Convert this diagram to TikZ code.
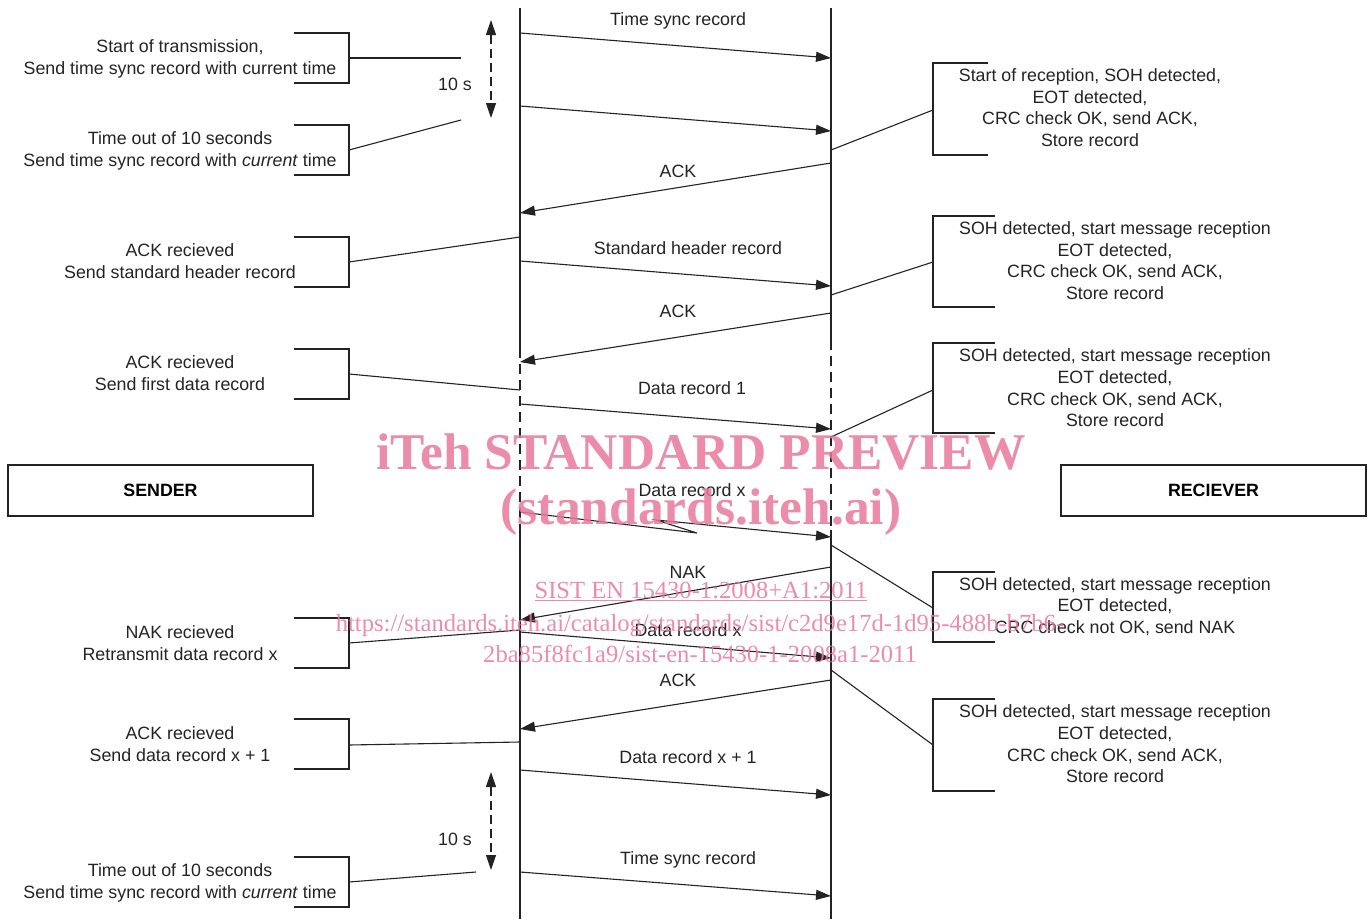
\documentclass[tikz,border=0pt]{standalone}
\usepackage{fontspec}
\setmainfont{Liberation Sans}
\newfontfamily\wmfont{Liberation Serif}
\usetikzlibrary{arrows.meta}
\definecolor{ln}{RGB}{35,35,35}
\definecolor{wmpink}{RGB}{232,120,156}
\begin{document}
\begin{tikzpicture}[x=1pt,y=-1pt,
 txt/.style={font=\fontsize{17.8}{21.6}\selectfont, align=center, inner sep=0pt, text=ln},
 hdr/.style={draw=ln, line width=1.3pt, minimum width=305pt, minimum height=51pt, inner sep=0pt, font=\fontsize{17.8}{21.6}\selectfont\bfseries},
 msg/.style={draw=ln, line width=1.1pt, -{Triangle[length=15pt,width=10pt]}},
 conn/.style={draw=ln, line width=1.1pt},
 brk/.style={draw=ln, line width=1.3pt},
 life/.style={draw=ln, line width=1.3pt},
 lifedash/.style={life, dash pattern=on 10pt off 6pt},
 tenarrow/.style={draw=ln, line width=1.2pt, dash pattern=on 9pt off 5pt, {Triangle[length=15pt,width=10pt]}-{Triangle[length=15pt,width=10pt]}},
 wm/.style={text=wmpink, inner sep=0pt, anchor=base, opacity=0.85}
]
\useasboundingbox (0,0) rectangle (1369,919);

% ---------- lifelines ----------
\coordinate (LT) at (520,8);  \coordinate (LD1) at (520,348); \coordinate (LD2) at (520,530); \coordinate (LB) at (520,919);
\coordinate (RT) at (831,8);  \coordinate (RD1) at (831,340); \coordinate (RD2) at (831,530); \coordinate (RB) at (831,919);
\draw[life] (LT) -- (LD1); \draw[lifedash] (LD1) -- (LD2); \draw[life] (LD2) -- (LB);
\draw[life] (RT) -- (RD1); \draw[lifedash] (RD1) -- (RD2); \draw[life] (RD2) -- (RB);

% ---------- header boxes ----------
\node[hdr] (sender) at (160.5,490.5) {SENDER};
\node[hdr] (receiver) at (1213.5,490.5) {RECIEVER};

% ---------- messages ----------
\coordinate (m1s) at (520,33);  \coordinate (m1e) at (831,58);
\coordinate (m2s) at (520,106); \coordinate (m2e) at (831,131);
\coordinate (m3s) at (831,163); \coordinate (m3e) at (520,213);
\coordinate (m4s) at (520,261); \coordinate (m4e) at (831,286);
\coordinate (m5s) at (831,313); \coordinate (m5e) at (520,362);
\coordinate (m6s) at (520,404); \coordinate (m6e) at (831,429);
\coordinate (m7s) at (520,512); \coordinate (m7a) at (697,533); \coordinate (m7b) at (656,520); \coordinate (m7e) at (831,537);
\coordinate (m8s) at (831,567); \coordinate (m8e) at (520,620);
\coordinate (m9s) at (520,632); \coordinate (m9e) at (831,658);
\coordinate (m10s) at (831,680); \coordinate (m10e) at (520,729);
\coordinate (m11s) at (520,770); \coordinate (m11e) at (831,795);
\coordinate (m12s) at (520,872); \coordinate (m12e) at (831,896);

\draw[msg] (m1s) -- (m1e);
\draw[msg] (m2s) -- (m2e);
\draw[msg] (m3s) -- (m3e);
\draw[msg] (m4s) -- (m4e);
\draw[msg] (m5s) -- (m5e);
\draw[msg] (m6s) -- (m6e);
\draw[msg] (m7s) -- (m7a) -- (m7b) -- (m7e);
\draw[msg] (m8s) -- (m8e);
\draw[msg] (m9s) -- (m9e);
\draw[msg] (m10s) -- (m10e);
\draw[msg] (m11s) -- (m11e);
\draw[msg] (m12s) -- (m12e);

\node[txt] (l1) at (678,21) {Time sync record};
\node[txt] (l3) at (678,171) {ACK};
\node[txt] (l4) at (688,248) {Standard header record};
\node[txt] (l5) at (678,311) {ACK};
\node[txt] (l6) at (692,388) {Data record 1};
\node[txt] (l7) at (692,490) {Data record x};
\node[txt] (l8) at (688,572) {NAK};
\node[txt] (l9) at (688,630) {Data record x};
\node[txt] (l10) at (678,680) {ACK};
\node[txt] (l11) at (688,757) {Data record x + 1};
\node[txt] (l12) at (688,860) {Time sync record};

% ---------- 10 s timers ----------
\coordinate (ta1) at (491,20);  \coordinate (ta2) at (491,118);
\coordinate (tb1) at (491,772); \coordinate (tb2) at (491,870);
\draw[tenarrow] (ta1) -- (ta2);
\draw[tenarrow] (tb1) -- (tb2);
\node[txt] (ts1) at (455,84) {10 s};
\node[txt] (ts2) at (455,839) {10 s};

% ---------- sender notes ----------
\node[txt] (s1) at (180,59)  {Start of transmission,\\Send time sync record with current time};
\node[txt] (s2) at (180,151) {Time out of 10 seconds\\Send time sync record with \textit{current} time};
\node[txt] (s3) at (180,261) {ACK recieved\\Send standard header record};
\node[txt] (s4) at (180,373) {ACK recieved\\Send first data record};
\node[txt] (s5) at (180,643) {NAK recieved\\Retransmit data record x};
\node[txt] (s6) at (180,744) {ACK recieved\\Send data record x + 1};
\node[txt] (s7) at (180,883) {Time out of 10 seconds\\Send time sync record with \textit{current} time};

\draw[brk] (294,33) -| (349,83) -- (294,83);
\draw[brk] (294,125) -| (349,175) -- (294,175);
\draw[brk] (294,237) -| (349,287) -- (294,287);
\draw[brk] (294,349) -| (349,399) -- (294,399);
\draw[brk] (294,618) -| (349,668) -- (294,668);
\draw[brk] (294,719) -| (349,769) -- (294,769);
\draw[brk] (294,857) -| (349,907) -- (294,907);

\coordinate (b1) at (349,58);  \coordinate (b1e) at (461,58);
\coordinate (b2) at (349,150); \coordinate (b2e) at (461,120);
\coordinate (b3) at (349,262); \coordinate (b3e) at (520,237);
\coordinate (b4) at (349,374); \coordinate (b4e) at (520,390);
\coordinate (b5) at (349,643); \coordinate (b5e) at (520,630);
\coordinate (b6) at (349,745); \coordinate (b6e) at (520,742);
\coordinate (b7) at (349,882); \coordinate (b7e) at (476,872);
\draw[conn] (b1) -- (b1e);
\draw[conn] (b2) -- (b2e);
\draw[conn] (b3) -- (b3e);
\draw[conn] (b4) -- (b4e);
\draw[conn] (b5) -- (b5e);
\draw[conn] (b6) -- (b6e);
\draw[conn] (b7) -- (b7e);

% ---------- receiver notes ----------
\node[txt] (r1) at (1090,107.5) {Start of reception, SOH detected,\\EOT detected,\\CRC check OK, send ACK,\\Store record};
\node[txt] (r2) at (1115,260.5) {SOH detected, start message reception\\EOT detected,\\CRC check OK, send ACK,\\Store record};
\node[txt] (r3) at (1115,388) {SOH detected, start message reception\\EOT detected,\\CRC check OK, send ACK,\\Store record};
\node[txt] (r4) at (1115,606.5) {SOH detected, start message reception\\EOT detected,\\CRC check not OK, send NAK};
\node[txt] (r5) at (1115,744) {SOH detected, start message reception\\EOT detected,\\CRC check OK, send ACK,\\Store record};

\draw[brk] (988,63) -| (933,155) -- (988,155);
\draw[brk] (995,216) -| (933,307) -- (995,307);
\draw[brk] (995,343) -| (933,433) -- (995,433);
\draw[brk] (995,572) -| (933,642) -- (995,642);
\draw[brk] (995,699) -| (933,791) -- (995,791);

\coordinate (c1) at (831,150); \coordinate (c1e) at (933,110);
\coordinate (c2) at (831,295); \coordinate (c2e) at (933,262);
\coordinate (c3) at (831,437); \coordinate (c3e) at (933,390);
\coordinate (c4) at (831,545); \coordinate (c4e) at (933,608);
\coordinate (c5) at (831,670); \coordinate (c5e) at (933,745);
\draw[conn] (c1) -- (c1e);
\draw[conn] (c2) -- (c2e);
\draw[conn] (c3) -- (c3e);
\draw[conn] (c4) -- (c4e);
\draw[conn] (c5) -- (c5e);

% ---------- watermark ----------
\node[wm, font=\wmfont\bfseries\fontsize{51.5}{56}\selectfont] (w1) at (701,469) {iTeh STANDARD PREVIEW};
\node[wm, font=\wmfont\bfseries\fontsize{51.5}{56}\selectfont] (w2) at (701,524) {(standards.iteh.ai)};
\node[wm, font=\wmfont\fontsize{24.6}{28}\selectfont] (w3) at (701,598) {\underline{SIST EN 15430-1:2008+A1:2011}};
\node[wm, font=\wmfont\fontsize{24.6}{28}\selectfont] (w4) at (700,631) {https://standards.iteh.ai/catalog/standards/sist/c2d9e17d-1d95-488b-b7b6-};
\node[wm, font=\wmfont\fontsize{24.6}{28}\selectfont] (w5) at (700,662) {2ba85f8fc1a9/sist-en-15430-1-2008a1-2011};
\end{tikzpicture}
\end{document}
